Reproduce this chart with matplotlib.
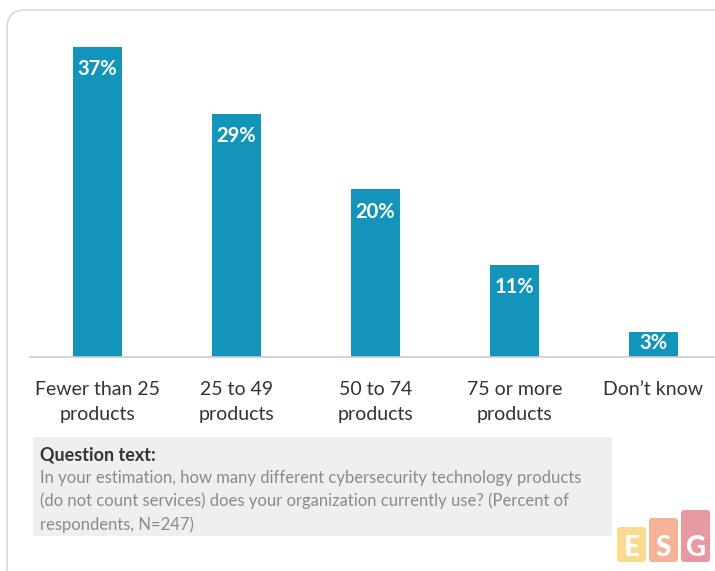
import matplotlib.pyplot as plt
from matplotlib.patches import FancyBboxPatch

categories = ["Fewer than 25\nproducts", "25 to 49\nproducts", "50 to 74\nproducts",
              "75 or more\nproducts", "Don\u2019t know"]
values = [37, 29, 20, 11, 3]
labels = ["37%", "29%", "20%", "11%", "3%"]

plt.rcParams['font.family'] = ['Lato', 'DejaVu Sans']

W, H = 715, 571
fig = plt.figure(figsize=(W / 100, H / 100), dpi=100)

# fond / carte arrondie
bg = fig.add_axes([0, 0, 1, 1])
bg.set_xlim(0, W)
bg.set_ylim(H, 0)
bg.axis('off')
bg.add_patch(FancyBboxPatch((7, 10), 760, 620, boxstyle="round,pad=0,rounding_size=18",
                            fc="white", ec="#d8d8d8", lw=1.2))

# boite "Question text"
bg.add_patch(plt.Rectangle((33, 437), 579, 99, fc="#efefef", ec="none"))
bg.text(40, 455, "Question text:", fontsize=13, fontweight="bold", color="#333333", va="center")
q = ("In your estimation, how many different cybersecurity technology products\n"
     "(do not count services) does your organization currently use? (Percent of\n"
     "respondents, N=247)")
bg.text(40, 470, q, fontsize=12, color="#8a8a8a", va="top", linespacing=1.5)

# logo ESG
logo = [("E", 617, 527, "#f9d683"), ("S", 649, 518, "#f7ab8c"), ("G", 681, 510, "#e68d95")]
for letter, x0, y0, c in logo:
    bg.add_patch(FancyBboxPatch((x0, y0), 29, 562 - y0, boxstyle="round,pad=0,rounding_size=3",
                                fc=c, ec="none", alpha=0.9))
    bg.text(x0 + 14.5, 548, letter, fontsize=20, fontweight="black", color="white",
            ha="center", va="center")

# graphique en barres
ax = fig.add_axes([30 / W, (H - 357) / H, 685 / W, 317 / H])
x = range(len(values))
bars = ax.bar(x, values, width=0.353, color="#1394bb")
ax.set_xlim(-0.486, 4.442)
ax.set_ylim(0, 37 * 317 / 310)
ax.patch.set_visible(False)
for s in ["top", "right", "left"]:
    ax.spines[s].set_visible(False)
ax.spines["bottom"].set_color("#cccccc")
ax.spines["bottom"].set_linewidth(1.2)
ax.set_yticks([])
ax.set_xticks(list(x))
ax.set_xticklabels(categories, fontsize=14, color="#333333", linespacing=1.6)
ax.tick_params(axis="x", length=0, pad=17)

for b, lab in zip(bars, labels):
    off = -16 if b.get_height() > 5 else -8
    ax.annotate(lab, (b.get_x() + b.get_width() / 2, b.get_height()),
                xytext=(0, off), textcoords="offset points", ha="center", va="center",
                fontsize=14.5, fontweight="bold", color="white")

plt.savefig("out.png", dpi=100)
plt.close()
